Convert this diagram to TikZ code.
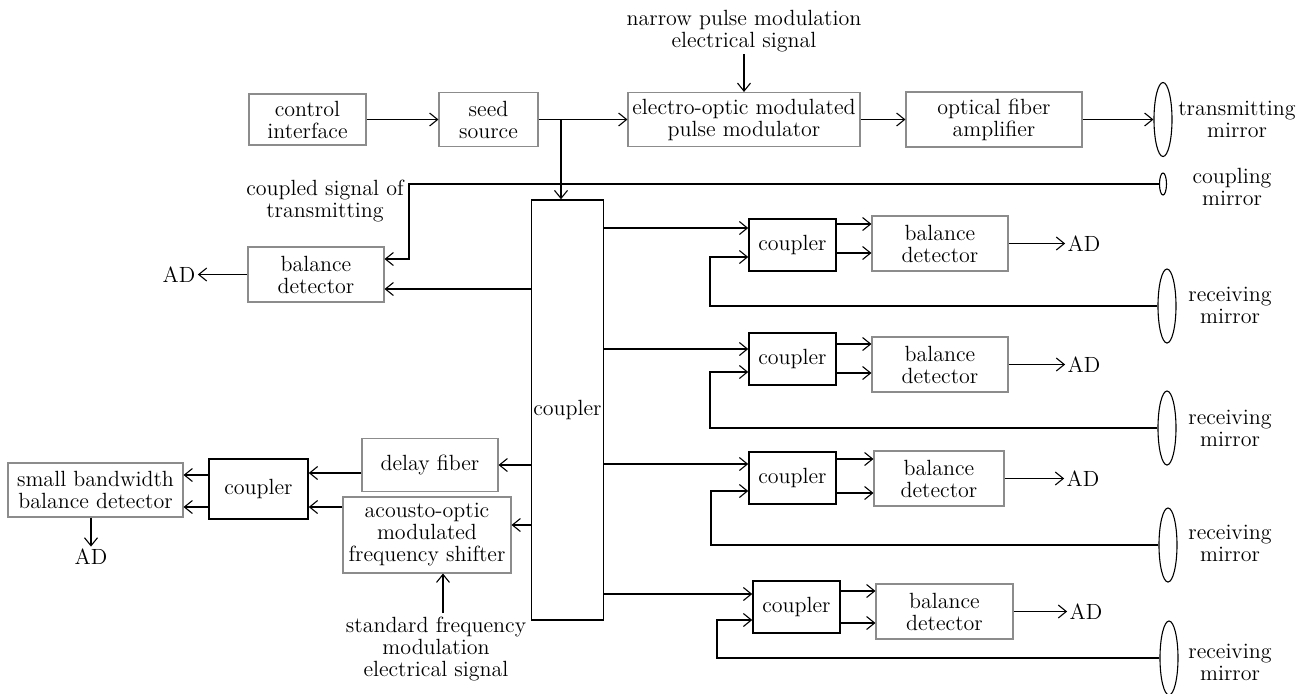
\documentclass[tikz,border=0pt]{standalone}
\usepackage{tikz}
\usetikzlibrary{shapes,arrows.meta,calc}

\begin{document}
\begin{tikzpicture}
  [
    x=0.5pt, y=-0.5pt, line width=0.55pt,
    >={Straight Barb[length=4pt,width=6.5pt]},
    every node/.style = {font=\fontsize{11}{11}\selectfont},
    block/.style =
      {draw=black!45, rectangle, align=center, inner sep=1pt},
    coup/.style =
      {draw, rectangle, align=center, line width=0.75pt, inner sep=1pt,
       minimum width=43.5pt, minimum height=26pt},
    mirror/.style =
      {draw, ellipse, inner sep=0pt, minimum width=9pt, minimum height=37pt},
    txt/.style =
      {align=center, inner sep=1pt}
  ]
  \useasboundingbox (0,0) rectangle (1298,693);

  \node [block, minimum width=58.5pt, minimum height=25.5pt] at (307.5,119.5) (ci) {control\\interface};
  \node [block, minimum width=49.5pt, minimum height=27pt]   at (488.5,119.5) (ss) {seed\\source};
  \node [block, minimum width=116pt,  minimum height=27pt]   at (744,119.5)   (eo) {electro-optic modulated\\pulse modulator};
  \node [block, minimum width=88pt,   minimum height=27.5pt] at (994,119.5)   (fa) {optical fiber\\amplifier};
  \node [mirror]                                             at (1163,119.5)  (tm) {};
  \node [txt]                                                at (1237,119)    (tl) {transmitting\\mirror};
  \node [draw, ellipse, inner sep=0pt, minimum width=3.5pt, minimum height=11pt]
                                                             at (1163,184)    (cm) {};
  \node [txt]                                                at (1232,187)    (cl) {coupling\\mirror};
  \node [txt]                                                at (744,31)      (np) {narrow pulse modulation\\electrical signal};
  \node [txt]                                                at (325,201)     (cs) {coupled signal of\\transmitting};

  \node [coup, minimum width=35.5pt, minimum height=210pt]   at (567.5,410)   (cp) {coupler};
  \node [block, minimum width=68pt, minimum height=27.5pt]   at (316,274.5)   (bd) {balance\\detector};
  \node [txt]                                                at (179,274.5)   (ad) {AD};

  \node [coup]                                               at (792.5,245)   (c1) {coupler};
  \node [block, minimum width=68pt, minimum height=27.5pt]   at (940,243.5)   (b1) {balance\\detector};
  \node [txt]                                                at (1084,243.5)  (a1) {AD};
  \node [mirror]                                             at (1167,306)    (m1) {};
  \node [txt]                                                at (1230,305)    (r1) {receiving\\mirror};

  \node [coup]                                               at (792.5,359)   (c2) {coupler};
  \node [block, minimum width=68pt, minimum height=27.5pt]   at (940,364.5)   (b2) {balance\\detector};
  \node [txt]                                                at (1084,364.5)  (a2) {AD};
  \node [mirror]                                             at (1167,428)    (m2) {};
  \node [txt]                                                at (1230,428)    (r2) {receiving\\mirror};

  \node [coup]                                               at (792.5,478)   (c3) {coupler};
  \node [block, minimum width=65pt, minimum height=27.5pt]   at (939,478.5)   (b3) {balance\\detector};
  \node [txt]                                                at (1083,478.5)  (a3) {AD};
  \node [mirror]                                             at (1168,545)    (m3) {};
  \node [txt]                                                at (1230,543)    (r3) {receiving\\mirror};

  \node [coup]                                               at (796.5,607)   (c4) {coupler};
  \node [block, minimum width=68.5pt, minimum height=27.5pt] at (944.5,611.5) (b4) {balance\\detector};
  \node [txt]                                                at (1086,611.5)  (a4) {AD};
  \node [mirror]                                             at (1169,658)    (m4) {};
  \node [txt]                                                at (1230,662)    (r4) {receiving\\mirror};

  \node [block, minimum width=68pt, minimum height=26.5pt]   at (430,465)     (df) {delay fiber};
  \node [block, minimum width=84pt, minimum height=38pt]     at (427,535)     (ao) {acousto-optic\\modulated\\frequency shifter};
  \node [coup, minimum width=49.5pt, minimum height=30pt]    at (258.5,489)   (cc) {coupler};
  \node [block, minimum width=87.5pt, minimum height=27pt]   at (95.5,490)    (sb) {small bandwidth\\balance detector};
  \node [txt]                                                at (91,557)      (ab) {AD};
  \node [txt]                                                at (436,649)     (sf) {standard frequency\\modulation\\electrical signal};

  \coordinate (sp) at (561,119.5);
  \coordinate (kb) at (409,259);
  \coordinate (l1) at (710,306);
  \coordinate (l2) at (710,428);
  \coordinate (l3) at (711,545);
  \coordinate (l4) at (717,658);
  \coordinate (fs) at (443,613);

  \draw[->] (ci.east)            -- (ss.west);
  \draw[->] (ss.east)            -- (eo.west);
  \draw[->] (sp)                 -- (sp |- cp.north);
  \draw[->] (np.south)           -- (eo.north);
  \draw[->] (eo.east)            -- (fa.west);
  \draw[->] (fa.east)            -- (tm.west);
  \draw[->] (cm.west)            -| (kb) -- (kb -| bd.east);
  \draw[->] (cp.west |- 0,289)   -- (bd.east |- 0,289);
  \draw[->] (bd.west)            -- (ad.east);

  \draw[->] (cp.east |- 0,228)   -- (c1.west |- 0,228);
  \draw[->] (c1.east |- 0,224)   -- (b1.west |- 0,224);
  \draw[->] (c1.east |- 0,253)   -- (b1.west |- 0,253);
  \draw[->] (b1.east)            -- (a1.west);
  \draw[->] (m1.west)            -- (l1) |- (c1.west |- 0,257);

  \draw[->] (cp.east |- 0,349)   -- (c2.west |- 0,349);
  \draw[->] (c2.east |- 0,344)   -- (b2.west |- 0,344);
  \draw[->] (c2.east |- 0,373)   -- (b2.west |- 0,373);
  \draw[->] (b2.east)            -- (a2.west);
  \draw[->] (m2.west)            -- (l2) |- (c2.west |- 0,372);

  \draw[->] (cp.east |- 0,464)   -- (c3.west |- 0,464);
  \draw[->] (c3.east |- 0,459)   -- (b3.west |- 0,459);
  \draw[->] (c3.east |- 0,493)   -- (b3.west |- 0,493);
  \draw[->] (b3.east)            -- (a3.west);
  \draw[->] (m3.west)            -- (l3) |- (c3.west |- 0,491);

  \draw[->] (cp.east |- 0,594)   -- (c4.west |- 0,594);
  \draw[->] (c4.east |- 0,591)   -- (b4.west |- 0,591);
  \draw[->] (c4.east |- 0,623)   -- (b4.west |- 0,623);
  \draw[->] (b4.east)            -- (a4.west);
  \draw[->] (m4.west)            -- (l4) |- (c4.west |- 0,620);

  \draw[->] (cp.west |- df.east) -- (df.east);
  \draw[->] (cp.west |- 0,525)   -- (ao.east |- 0,525);
  \draw[->] (df.west |- 0,473)   -- (cc.east |- 0,473);
  \draw[->] (ao.west |- 0,507)   -- (cc.east |- 0,507);
  \draw[->] (cc.west |- 0,475)   -- (sb.east |- 0,475);
  \draw[->] (cc.west |- 0,507)   -- (sb.east |- 0,507);
  \draw[->] (ab.north |- sb.south) -- (ab.north);
  \draw[->] (fs)                 -- (fs |- ao.south);
\end{tikzpicture}
\end{document}
